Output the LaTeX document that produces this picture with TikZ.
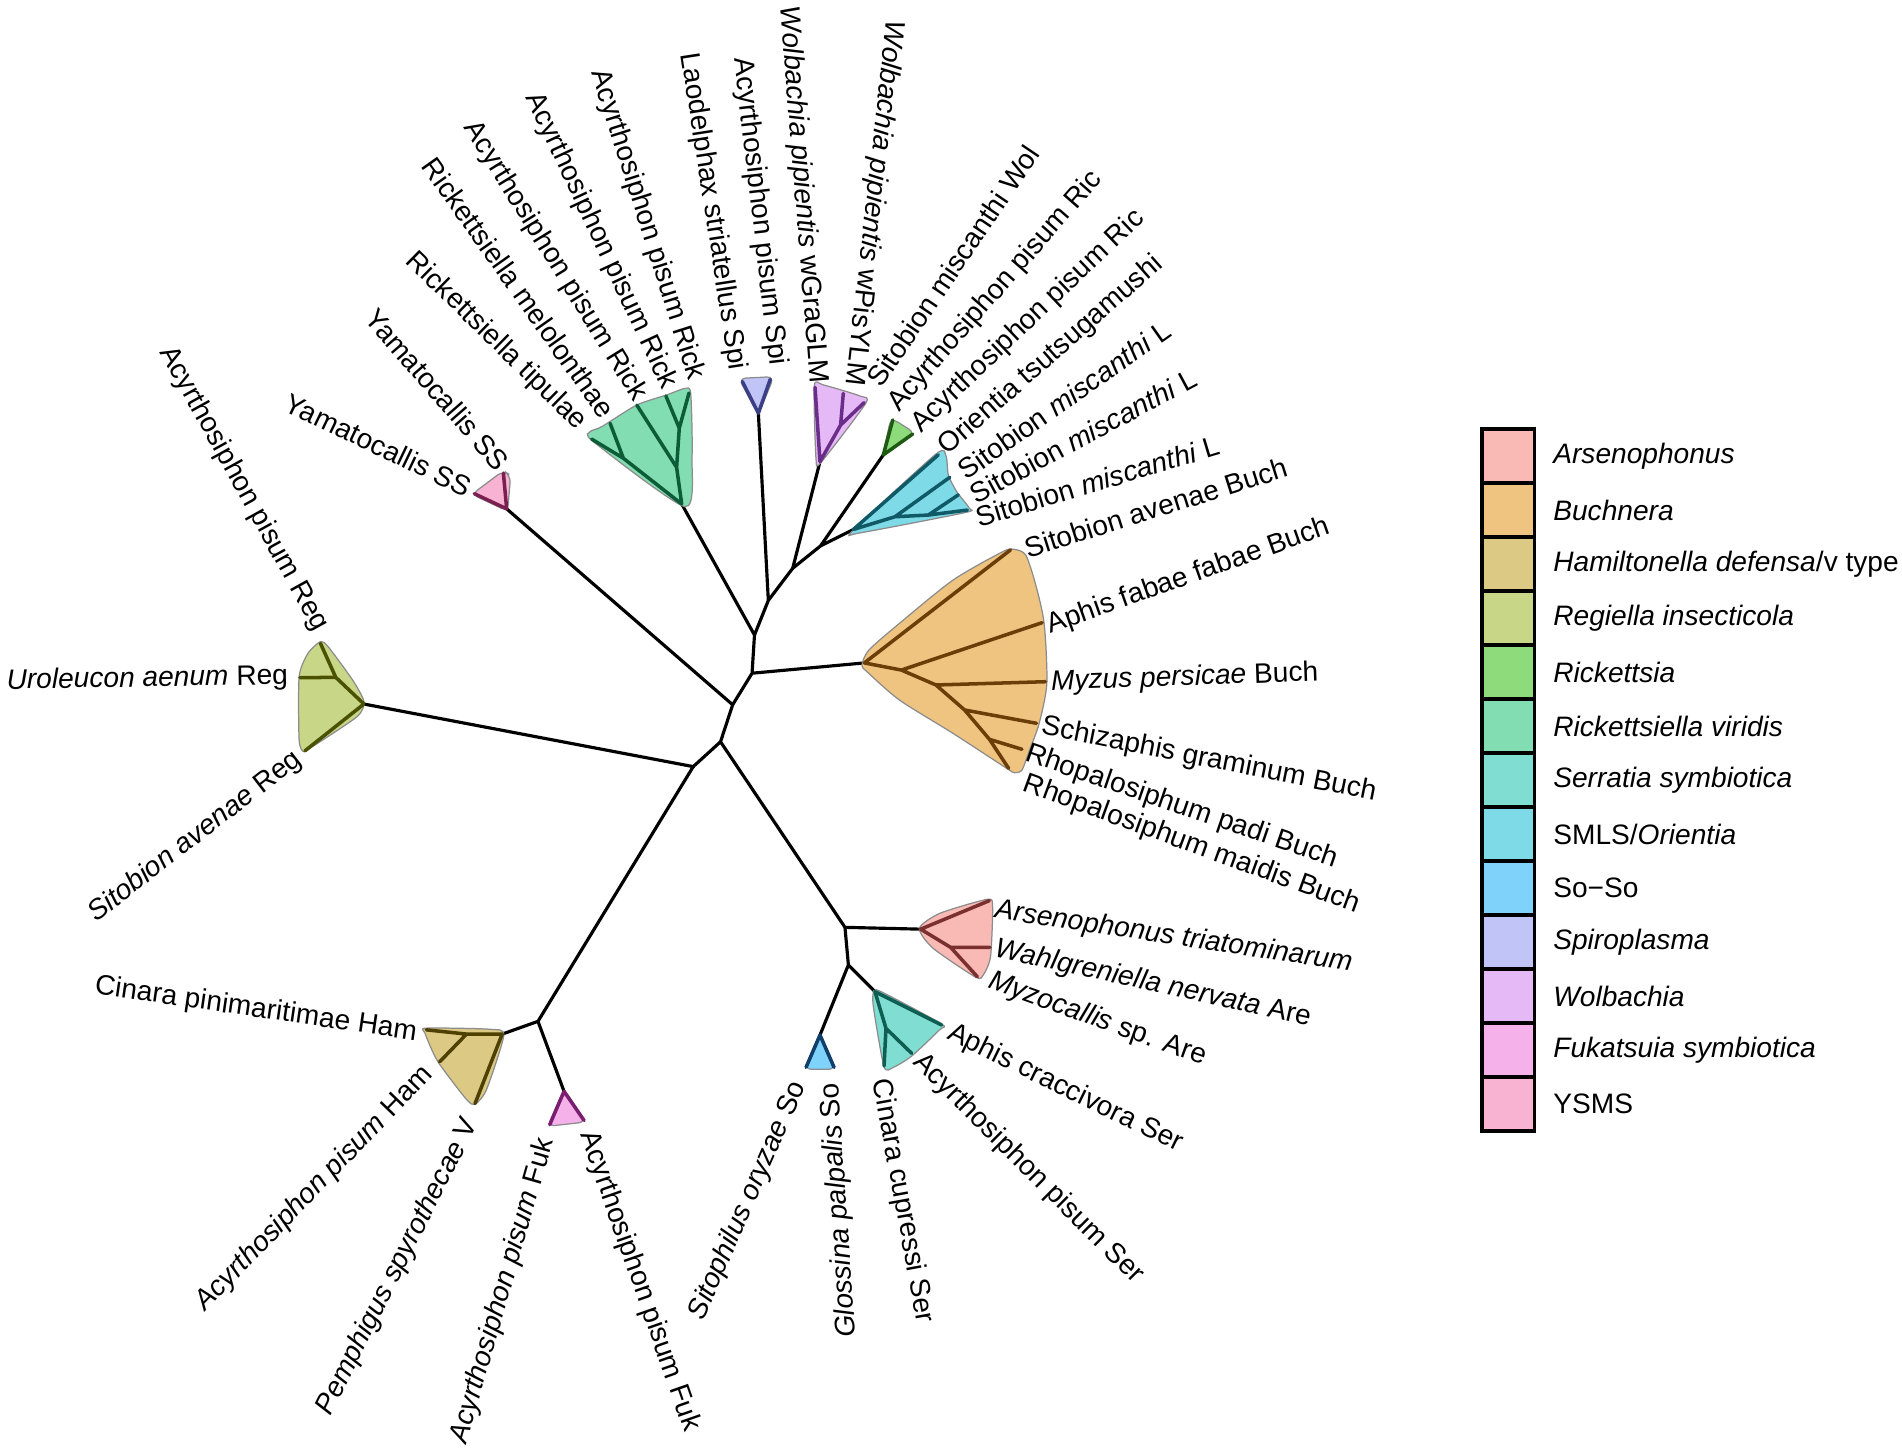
\documentclass[tikz,border=0pt]{standalone}
\usepackage{fontspec}
\setmainfont{Liberation Sans}
\definecolor{cArs}{HTML}{F9B9B5}
\definecolor{cBuc}{HTML}{EFC380}
\definecolor{cHam}{HTML}{DCC983}
\definecolor{cReg}{HTML}{C8D687}
\definecolor{cRic}{HTML}{8EDB7C}
\definecolor{cRkv}{HTML}{82DDB2}
\definecolor{cSer}{HTML}{7FDDD1}
\definecolor{cSml}{HTML}{7FDAE8}
\definecolor{cSoo}{HTML}{7FD3FA}
\definecolor{cSpi}{HTML}{C0C4F6}
\definecolor{cWol}{HTML}{E5B8F6}
\definecolor{cFuk}{HTML}{F5B2EA}
\definecolor{cYsm}{HTML}{F8B2D2}
\definecolor{lArs}{HTML}{7B3030}
\definecolor{lBuc}{HTML}{6B3E08}
\definecolor{lHam}{HTML}{4D4000}
\definecolor{lReg}{HTML}{4A5200}
\definecolor{lRic}{HTML}{1F5A12}
\definecolor{lRkv}{HTML}{0D5C38}
\definecolor{lSer}{HTML}{0E5E52}
\definecolor{lSml}{HTML}{0F5A66}
\definecolor{lSoo}{HTML}{0F3F6A}
\definecolor{lSpi}{HTML}{3B3F85}
\definecolor{lWol}{HTML}{6A2E8A}
\definecolor{lFuk}{HTML}{7A1F70}
\definecolor{lYsm}{HTML}{7A2050}
\begin{document}
\begin{tikzpicture}[x=0.01213cm,y=-0.01213cm,
  lab/.style={font=\fontsize{8}{9.6}\selectfont, inner sep=0pt},
  br/.style={line width=0.9pt, black, line cap=round, line join=round},
  cl/.style={line width=1pt, line cap=round, line join=round},
  blob/.style={draw=black!45, line width=0.35pt},
  legbox/.style={draw=black, line width=1.1pt}
]
\useasboundingbox (0,0) rectangle (1568,1198);
% ---------- backbone coordinates
\coordinate (A) at (594,611.5);
\coordinate (B) at (571.5,632);
\coordinate (C) at (604,581);
\coordinate (D) at (620,555);
\coordinate (E) at (622,523.5);
\coordinate (F) at (633.4,495);
\coordinate (G) at (653.5,468.5);
\coordinate (H) at (676.5,450);
\coordinate (I) at (696.6,764.5);
\coordinate (K) at (699.4,795.5);
\coordinate (J) at (443.5,842);
% clade roots
\coordinate (rReg) at (300,580.4);
\coordinate (rHam) at (414,852.5);
\coordinate (rFuk) at (465,899.7);
\coordinate (rYs) at (417.7,419.5);
\coordinate (rRk) at (562,415.5);
\coordinate (rSpi) at (625.2,340.7);
\coordinate (rWol) at (676,380.6);
\coordinate (rRic) at (728.2,375);
\coordinate (rSm) at (703.5,436.5);
\coordinate (rBu) at (712.6,546.5);
\coordinate (rArs) at (759,766);
\coordinate (rSo) at (676,853.3);
\coordinate (rSer) at (721.3,817.5);
% clade internals and tips
\coordinate (iReg) at (276.8,558.4);
\coordinate (tRe1) at (264.2,530.4);
\coordinate (tRe2) at (247.3,558.7);
\coordinate (tRe3) at (251.4,619);
\coordinate (tYs1) at (415,390);
\coordinate (tYs2) at (391,407);
\coordinate (nRk1) at (513.9,377.8);
\coordinate (nRk2) at (557.8,385.3);
\coordinate (nRk3) at (560,353);
\coordinate (tRk1) at (487.8,362);
\coordinate (tRk2) at (503,349);
\coordinate (tRk3) at (525,334);
\coordinate (tRk4) at (549,326.5);
\coordinate (tRk5) at (568,324);
\coordinate (tSp1) at (612,314.5);
\coordinate (tSp2) at (635,312.7);
\coordinate (nW) at (693,350.4);
\coordinate (tW1) at (671.9,319.3);
\coordinate (tW2) at (695.2,324.3);
\coordinate (tW3) at (712.3,332);
\coordinate (tRc1) at (736,346.2);
\coordinate (tRc2) at (752.4,357.8);
\coordinate (nSm1) at (737.8,426);
\coordinate (nSm2) at (765.3,424.6);
\coordinate (tSm1) at (773.5,375);
\coordinate (tSm2) at (783,393.5);
\coordinate (tSm3) at (790,408);
\coordinate (tSm4) at (797.5,420.5);
\coordinate (nBu1) at (743.1,552.4);
\coordinate (nBu2) at (771.6,564.7);
\coordinate (nBu3) at (795.2,585.3);
\coordinate (nBu4) at (815.7,609.5);
\coordinate (tBu1) at (833,453.4);
\coordinate (tBu2) at (859.2,513.3);
\coordinate (tBu3) at (862,562);
\coordinate (tBu4) at (854.5,596.3);
\coordinate (tBu5) at (842.5,617.7);
\coordinate (tBu6) at (831.5,633.4);
\coordinate (nAr) at (783.7,781);
\coordinate (tAr1) at (815.6,742.5);
\coordinate (tAr2) at (816.2,781);
\coordinate (tAr3) at (805.7,805.2);
\coordinate (nSe) at (730.4,847.8);
\coordinate (tSe1) at (776.3,845);
\coordinate (tSe2) at (751.6,868.4);
\coordinate (tSe3) at (728.8,878.8);
\coordinate (tSo1) at (664.5,879.9);
\coordinate (tSo2) at (687.6,879.9);
\coordinate (nHa) at (384.6,852.5);
\coordinate (tHa1) at (351.5,849);
\coordinate (tHa2) at (362.5,875.3);
\coordinate (tHa3) at (391.6,909.8);
\coordinate (tFu1) at (453.2,927.2);
\coordinate (tFu2) at (481.5,923.7);
% ---------- backbone
\draw[br] (A) -- (B) (A) -- (C) (A) -- (I);
\draw[br] (B) -- (rReg) (B) -- (J) (J) -- (rHam) (J) -- (rFuk);
\draw[br] (C) -- (rYs) (C) -- (D) (D) -- (rBu) (D) -- (E);
\draw[br] (E) -- (rRk) (E) -- (F) (F) -- (rSpi) (F) -- (G);
\draw[br] (G) -- (rWol) (G) -- (H) (H) -- (rRic) (H) -- (rSm);
\draw[br] (I) -- (rArs) (I) -- (K) (K) -- (rSo) (K) -- (rSer);
% ---------- blobs
\filldraw[blob, fill=cReg] plot[smooth cycle, tension=0.4] coordinates {(264.2,529) (270.5,533.1) (290.7,560.6) (300,578.4) (294.4,590.8) (257.6,615.5) (250.2,619.6) (246.6,610) (246.6,557.8) (253.9,538.6)};
\filldraw[blob, fill=cYsm, rounded corners=2] (389,407.5) -- (415,388) -- (421,392) -- (418.5,421.5) -- cycle;
\filldraw[blob, fill=cRkv] plot[smooth cycle, tension=0.4] coordinates {(486.4,355.9) (496,351.8) (524.9,333.9) (549.6,325.6) (564.7,320.2) (569.4,324.3) (570.5,376.5) (564.7,417.7) (489.1,364.1)};
\filldraw[blob, fill=cSpi, rounded corners=2] (609,312) -- (638,310.5) -- (625.2,342) -- cycle;
\filldraw[blob, fill=cWol] plot[smooth cycle, tension=0.4] coordinates {(671.3,318.2) (678.9,317.4) (709.1,326.5) (713.7,332.5) (676.6,381.4) (672.7,377.9)};
\filldraw[blob, fill=cRic, rounded corners=2] (734.5,344.5) -- (754.5,357) -- (727.5,376.5) -- cycle;
\filldraw[blob, fill=cSml] plot[smooth cycle, tension=0.4] coordinates {(703.5,437) (771.6,374.3) (779.9,375.9) (781.8,391.6) (788.7,405.3) (799.1,419) (795.5,422.6) (709,439.3)};
\filldraw[blob, fill=cBuc] plot[smooth cycle, tension=0.45] coordinates {(716.3,535.9) (741.5,513.9) (785.7,478.2) (826.7,454.8) (836.2,452.9) (845.6,457.6) (853.5,480.9) (860.8,513.9) (863,563.4) (856.7,596.3) (848.8,618.3) (842.5,634.8) (836.2,637) (829.9,633.4) (785.7,604.6) (741.5,577.1) (714.7,553.7) (710.6,548.2)};
\filldraw[blob, fill=cArs] plot[smooth cycle, tension=0.4] coordinates {(757.9,765.3) (774.9,752.9) (813.9,741.4) (818.3,747.4) (816.6,788.7) (810.6,803.8) (804.5,805.7) (769.3,781.8)};
\filldraw[blob, fill=cSer] plot[smooth cycle, tension=0.4] coordinates {(720.5,816.7) (728.2,818.4) (776.3,844.2) (774.4,849.1) (751.6,870.6) (736.5,879.9) (728.8,879.4) (720,829.9)};
\filldraw[blob, fill=cSoo, rounded corners=2] (663,881.5) -- (689,881.5) -- (676,851.5) -- cycle;
\filldraw[blob, fill=cHam] plot[smooth cycle, tension=0.4] coordinates {(351.4,847.6) (403.5,848.5) (415.3,853.4) (401.1,898.2) (391.6,910.4) (384.5,906.3) (360.9,875.1) (350.4,851.9)};
\filldraw[blob, fill=cFuk, rounded corners=2] (451.5,928.5) -- (483,925) -- (465,898) -- cycle;
% ---------- clade branches
\draw[cl, lReg] (rReg) -- (iReg) -- (tRe1) (iReg) -- (tRe2) (rReg) -- (tRe3);
\draw[cl, lYsm] (rYs) -- (tYs1) (rYs) -- (tYs2);
\draw[cl, lRkv] (rRk) -- (nRk1) -- (tRk1) (nRk1) -- (tRk2) (rRk) -- (nRk2) -- (tRk3) (nRk2) -- (nRk3) -- (tRk4) (nRk3) -- (tRk5);
\draw[cl, lSpi] (rSpi) -- (tSp1) (rSpi) -- (tSp2);
\draw[cl, lWol] (rWol) -- (tW1) (rWol) -- (nW) -- (tW3) (nW) -- (tW2);
\draw[cl, lRic] (rRic) -- (tRc1) (rRic) -- (tRc2);
\draw[cl, lSml] (rSm) -- (tSm1) (rSm) -- (nSm1) -- (nSm2) -- (tSm4) (nSm1) -- (tSm2) (nSm2) -- (tSm3);
\draw[cl, lBuc] (rBu) -- (tBu1) (rBu) -- (nBu1) -- (tBu2) (nBu1) -- (nBu2) -- (tBu3) (nBu2) -- (nBu3) -- (tBu4) (nBu3) -- (nBu4) -- (tBu5) (nBu4) -- (tBu6);
\draw[cl, lArs] (rArs) -- (tAr1) (rArs) -- (nAr) -- (tAr2) (nAr) -- (tAr3);
\draw[cl, lSer] (rSer) -- (tSe1) (rSer) -- (nSe) -- (tSe3) (nSe) -- (tSe2);
\draw[cl, lSoo] (rSo) -- (tSo1) (rSo) -- (tSo2);
\draw[cl, lHam] (rHam) -- (tHa3) (rHam) -- (nHa) -- (tHa1) (nHa) -- (tHa2);
\draw[cl, lFuk] (rFuk) -- (tFu1) (rFuk) -- (tFu2);
% ---------- tip labels
\node[lab, anchor=east, rotate=-61] (n01) at (265,519) {Acyrthosiphon pisum Reg};
\node[lab, anchor=east, rotate=-49] (n02) at (415.8,384.6) {Yamatocallis SS};
\node[lab, anchor=east, rotate=-25.6] (n03) at (388,403) {Yamatocallis SS};
\node[lab, anchor=east, rotate=-44.4] (n04) at (480.2,351.4) {Rickettsiella tipulae};
\node[lab, anchor=east, rotate=-54.7] (n05) at (502.3,342.2) {Rickettsiella melolonthae};
\node[lab, anchor=east, rotate=-58.3] (n06) at (528,329.4) {Acyrthosiphon pisum Rick};
\node[lab, anchor=east, rotate=-65] (n07) at (552,320) {Acyrthosiphon pisum Rick};
\node[lab, anchor=east, rotate=-72.4] (n08) at (574,313) {Acyrthosiphon pisum Rick};
\node[lab, anchor=east, rotate=-81.2] (n09) at (607.7,305.4) {Laodelphax striatellus Spi};
\node[lab, anchor=east, rotate=-83.4] (n10) at (640.8,301.8) {Acyrthosiphon pisum Spi};
\node[lab, anchor=east, rotate=-85.5] (n11) at (674,316.5) {\textit{Wolbachia pipientis} wGraGLM};
\node[lab, anchor=east, rotate=-96.4] (n12) at (703.3,318.3) {\textit{Wolbachia pipientis} wPisYLM};
\node[lab, anchor=west, rotate=55.9] (n13) at (719.9,316.5) {Sitobion miscanthi Wol};
\node[lab, anchor=west, rotate=48.8] (n14) at (736.5,336.7) {Acyrthosiphon pisum Ric};
\node[lab, anchor=west, rotate=43.6] (n15) at (754.9,353.3) {Acyrthosiphon pisum Ric};
\node[lab, anchor=west, rotate=41.2] (n16) at (776.9,371.7) {Orientia tsutsugamushi};
\node[lab, anchor=west, rotate=35.2] (n17) at (791.7,390) {Sitobion \textit{miscanthi} L};
\node[lab, anchor=west, rotate=28.2] (n18) at (800.9,408.5) {Sitobion \textit{miscanthi} L};
\node[lab, anchor=west, rotate=16.8] (n19) at (804.6,426.9) {Sitobion \textit{miscanthi} L};
\node[lab, anchor=west, rotate=17.5] (n20) at (845,452.6) {Sitobion avenae Buch};
\node[lab, anchor=west, rotate=19.6] (n21) at (863.4,517) {Aphis fabae fabae Buch};
\node[lab, anchor=west, rotate=2] (n22) at (866,563) {\textit{Myzus persicae} Buch};
\node[lab, anchor=west, rotate=-11.3] (n23) at (858.3,599) {Schizaphis graminum Buch};
\node[lab, anchor=west, rotate=-19] (n24) at (845.6,621) {Rhopalosiphum padi Buch};
\node[lab, anchor=west, rotate=-20.1] (n25) at (844,645.8) {Rhopalosiphum maidis Buch};
\node[lab, anchor=west, rotate=-8.5] (n26) at (819.8,750.7) {\textit{Arsenophonus triatominarum}};
\node[lab, anchor=west, rotate=-12.4] (n27) at (819.8,782.5) {\textit{Wahlgreniella nervata} Are};
\node[lab, anchor=west, rotate=-19.7] (n28) at (815.3,808.5) {\textit{Myzocallis} sp. Are};
\node[lab, anchor=west, rotate=-26.1] (n29) at (782,850.5) {Aphis craccivora Ser};
\node[lab, anchor=west, rotate=-44.9] (n30) at (756,872.2) {Acyrthosiphon pisum Ser};
\node[lab, anchor=west, rotate=-79.6] (n31) at (725.3,889.5) {Cinara cupressi Ser};
\node[lab, anchor=east, rotate=93.9] (n32) at (685,892.4) {\textit{Glossina palpalis} So};
\node[lab, anchor=east, rotate=66.5] (n33) at (659,892.4) {\textit{Sitophilus oryzae} So};
\node[lab, anchor=west, rotate=-70.7] (n34) at (484,933) {Acyrthosiphon pisum Fuk};
\node[lab, anchor=east, rotate=73.9] (n35) at (450.8,938.7) {\textit{Acyrthosiphon pisum} Fuk};
\node[lab, anchor=east, rotate=63.3] (n36) at (389,922.8) {\textit{Pemphigus spyrothecae} V};
\node[lab, anchor=east, rotate=46] (n37) at (353.7,882.3) {\textit{Acyrthosiphon pisum} Ham};
\node[lab, anchor=east, rotate=-8.3] (n38) at (344.1,851.9) {Cinara pinimaritimae Ham};
\node[lab, anchor=east, rotate=37.7] (n39) at (246.5,623.8) {\textit{Sitobion avenae} Reg};
\node[lab, anchor=east, rotate=1] (n40) at (238,558) {\textit{Uroleucon aenum} Reg};
% ---------- legend
\foreach \c [count=\i from 0] in {cArs,cBuc,cHam,cReg,cRic,cRkv,cSer,cSml,cSoo,cSpi,cWol,cFuk,cYsm}
  \filldraw[legbox, fill=\c] (1222,{354+44.5*\i}) rectangle (1265,{398.5+44.5*\i});
\node[lab, anchor=west] (g00) at (1280,376.25) {\textit{Arsenophonus}};
\node[lab, anchor=west] (g01) at (1280,420.75) {\textit{Buchnera}};
\node[lab, anchor=west] (g02) at (1280,465.25) {\textit{Hamiltonella defensa}/v type};
\node[lab, anchor=west] (g03) at (1280,509.75) {\textit{Regiella insecticola}};
\node[lab, anchor=west] (g04) at (1280,554.25) {\textit{Rickettsia}};
\node[lab, anchor=west] (g05) at (1280,598.75) {\textit{Rickettsiella viridis}};
\node[lab, anchor=west] (g06) at (1280,643.25) {\textit{Serratia symbiotica}};
\node[lab, anchor=west] (g07) at (1280,687.75) {SMLS/\textit{Orientia}};
\node[lab, anchor=west] (g08) at (1280,732.25) {So−So};
\node[lab, anchor=west] (g09) at (1280,776.75) {\textit{Spiroplasma}};
\node[lab, anchor=west] (g10) at (1280,821.25) {\textit{Wolbachia}};
\node[lab, anchor=west] (g11) at (1280,865.75) {\textit{Fukatsuia symbiotica}};
\node[lab, anchor=west] (g12) at (1280,910.25) {YSMS};
\end{tikzpicture}
\end{document}
